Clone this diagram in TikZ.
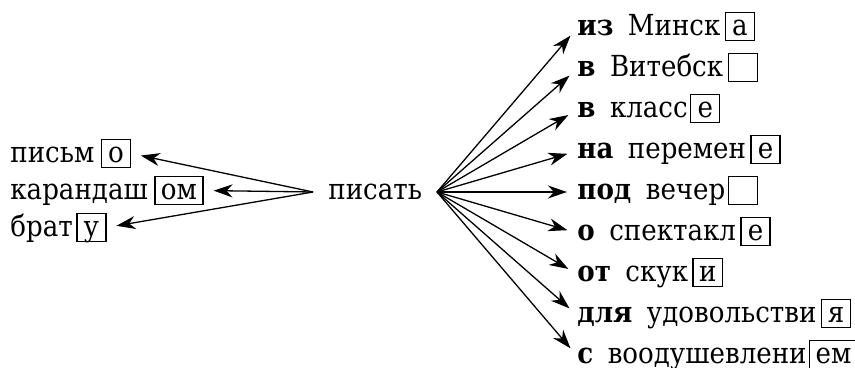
\documentclass[tikz,border=0pt]{standalone}
\usepackage{fontspec}
\setmainfont{DejaVu Serif}[FakeStretch=0.9]
\usetikzlibrary{arrows.meta,positioning}
\tikzset{
	word/.style={anchor=west,inner sep=0pt,text height=7.5pt,text depth=0pt},
	ending/.style={draw,line width=0.65pt,inner xsep=3pt,inner ysep=0pt,text height=11.5pt,text depth=2.5pt,minimum width=14.5pt},
	link/.style={line width=0.65pt,-{Stealth[length=9.5pt,width=6.5pt,inset=3pt]},shorten >=5pt}
}
\newcommand{\pre}[1]{\textbf{#1}\hspace{0.5em}}
\begin{document}
\fontsize{14.5}{17}\selectfont
\begin{tikzpicture}[x=0.5pt,y=-0.5pt]
	\useasboundingbox (0,0) rectangle (855,368);
	\coordinate (L) at (313,192);
	\coordinate (R) at (437,192);
	\node[word] (verb) at (328,192) {писать};

\node[word] (a1) at (10,155) {письм}; \node[ending,base right=3pt of a1] (b1) {о};
\node[word] (a2) at (10,192) {карандаш}; \node[ending,base right=3pt of a2] (b2) {ом};
\node[word] (a3) at (10,229) {брат}; \node[ending,base right=1.5pt of a3] (b3) {у};
\draw[link] (L) -- (b1.east); \draw[link] (L) -- (b2.east); \draw[link] (L) -- (b3.east);

\node[word] (w1) at (577,28) {\pre{из}Минск}; \node[ending,base right=2pt of w1] (e1) {а};
\node[word] (w2) at (577,69) {\pre{в}Витебск}; \node[ending,base right=2pt of w2] (e2) {};
\node[word] (w3) at (577,110) {\pre{в}класс}; \node[ending,base right=1pt of w3] (e3) {е};
\node[word] (w4) at (577,151) {\pre{на}перемен}; \node[ending,base right=2pt of w4] (e4) {е};
\node[word] (w5) at (577,192) {\pre{под}вечер}; \node[ending,base right=1pt of w5] (e5) {};
\node[word] (w6) at (577,233) {\pre{о}спектакл}; \node[ending,base right=2pt of w6] (e6) {е};
\node[word] (w7) at (577,274) {\pre{от}скук}; \node[ending,base right=2pt of w7] (e7) {и};
\node[word] (w8) at (577,315) {\pre{для}удовольстви}; \node[ending,base right=2pt of w8] (e8) {я};
\node[word] (w9) at (577,356) {\pre{с}воодушевлени}; \node[ending,base right=1pt of w9] (e9) {ем};
\draw[link] (R) -- (w1.west); \draw[link] (R) -- (w2.west); \draw[link] (R) -- (w3.west);
\draw[link] (R) -- (w4.west); \draw[link] (R) -- (w5.west); \draw[link] (R) -- (w6.west);
\draw[link] (R) -- (w7.west); \draw[link] (R) -- (w8.west); \draw[link] (R) -- (w9.west);
\end{tikzpicture}
\end{document}
